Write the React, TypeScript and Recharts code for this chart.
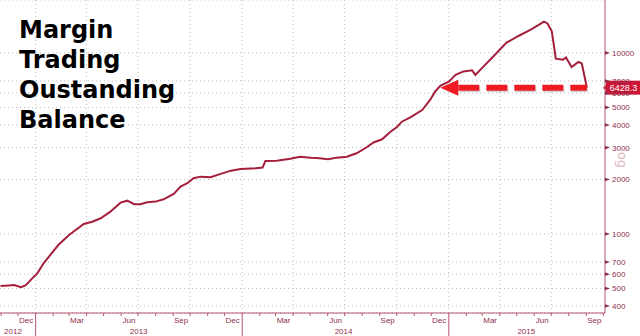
import React from 'react';
import { LineChart, Line, XAxis, YAxis, CartesianGrid, ReferenceLine } from 'recharts';

// Margin trading outstanding balance (log scale)
const dates = [
  '2012-10-31', '2012-11-14', '2012-11-24', '2012-12-06', '2012-12-14', '2012-12-29',
  '2013-01-04', '2013-01-15', '2013-01-27', '2013-02-10', '2013-03-01', '2013-03-27',
  '2013-04-11', '2013-04-26', '2013-05-13', '2013-05-31', '2013-06-12', '2013-06-24',
  '2013-07-05', '2013-07-17', '2013-08-01', '2013-08-15', '2013-09-02', '2013-09-14',
  '2013-09-26', '2013-10-07', '2013-10-19', '2013-11-06', '2013-11-24', '2013-12-12',
  '2013-12-29', '2014-01-25', '2014-02-06', '2014-02-11', '2014-03-03', '2014-03-27',
  '2014-04-13', '2014-05-02', '2014-05-13', '2014-06-02', '2014-06-17', '2014-07-05',
  '2014-07-22', '2014-08-09', '2014-08-21', '2014-09-05', '2014-09-20', '2014-10-02',
  '2014-10-10', '2014-10-25', '2014-11-15', '2014-11-29', '2014-12-08', '2014-12-17',
  '2015-01-01', '2015-01-13', '2015-01-27', '2015-02-11', '2015-02-17', '2015-02-26',
  '2015-03-21', '2015-04-13', '2015-05-04', '2015-05-25', '2015-06-09', '2015-06-18',
  '2015-06-24', '2015-07-02', '2015-07-06', '2015-07-09', '2015-07-22', '2015-07-27',
  '2015-08-06', '2015-08-18', '2015-08-24', '2015-08-27', '2015-09-02',
];
const balance = [
  516, 520, 522, 508, 520, 581,
  606, 689, 766, 869, 987, 1136,
  1169, 1221, 1328, 1489, 1527, 1460,
  1460, 1496, 1509, 1554, 1664, 1826,
  1907, 2030, 2073, 2057, 2146, 2237,
  2286, 2306, 2330, 2531, 2540, 2605,
  2673, 2640, 2630, 2585, 2640, 2673,
  2790, 3013, 3200, 3334, 3672, 3910,
  4170, 4410, 4838, 5500, 6125, 6580,
  6940, 7560, 7900, 8010, 7560, 8080,
  9580, 11400, 12400, 13400, 14290, 14900,
  14600, 13150, 10830, 9300, 9180, 9430,
  8360, 8920, 8740, 7900, 6428.3,
];

const yTicks = [400, 500, 600, 700, 1000, 2000, 3000, 4000, 5000, 6000, 7000, 10000];
const monthLabels = ['Dec', 'Mar', 'Jun', 'Sep', 'Dec', 'Mar', 'Jun', 'Sep', 'Dec', 'Mar', 'Jun', 'Sep'];
const monthLabelDates = [
  '2012-12-15', '2013-03-15', '2013-06-15', '2013-09-15',
  '2013-12-15', '2014-03-15', '2014-06-15', '2014-09-15',
  '2014-12-15', '2015-03-15', '2015-06-15', '2015-09-15',
];
const yearLabels = ['2012', '2013', '2014', '2015'];
const yearLabelDates = ['2012-11-22', '2013-07-02', '2014-06-29', '2015-05-18'];
const gridDates = [
  '2013-01-01', '2013-04-01', '2013-07-01', '2013-10-01',
  '2014-01-01', '2014-04-01', '2014-07-01', '2014-10-01',
  '2015-01-01', '2015-04-01', '2015-07-01',
];
const lastValue = 6428.3;
const arrowFrom = '2014-12-17';
const arrowTo = '2015-09-02';
const domainStart = '2012-10-30';
const domainEnd = '2015-10-04';

const t = (d: string) => Date.parse(d);
const data = dates.map((d, i) => ({ t: t(d), v: balance[i] }));

// month boundaries for the small tick marks
const monthStarts: number[] = [];
for (let i = 0; ; i++) {
  const ms = Date.UTC(2012, 10 + i, 1);
  if (ms > t(domainEnd)) break;
  monthStarts.push(ms);
}
const monthStartSet = new Set(monthStarts);
const monthLabelAt = new Map(monthLabelDates.map((d, i) => [t(d), monthLabels[i]]));
const yearLabelAt = new Map(yearLabelDates.map((d, i) => [t(d), yearLabels[i]]));
const xTicks = Array.from(new Set([...monthStarts, ...monthLabelAt.keys(), ...yearLabelAt.keys()])).sort(
  (a, b) => a - b,
);

const axisColor = '#b5546e';
const textColor = '#8f2f4d';
const lineColor = '#a51f3c';
const gridColor = '#bdbdbd';
const font = '"Liberation Sans", Arial, sans-serif';

const XTick = (props: any) => {
  const { x, y, payload } = props;
  const v = payload.value;
  const jan = new Date(v).getUTCMonth() === 0;
  return (
    <g>
      {monthStartSet.has(v) && (
        <line x1={x} y1={y} x2={x} y2={y + (jan ? 23 : 3)} stroke={axisColor} strokeWidth={1} />
      )}
      {monthLabelAt.has(v) && (
        <text x={x} y={y + 10} textAnchor="middle" fill={textColor} fontSize={8} fontFamily={font}>
          {monthLabelAt.get(v)}
        </text>
      )}
      {yearLabelAt.has(v) && (
        <text x={x} y={y + 21} textAnchor="middle" fill={textColor} fontSize={8} fontFamily={font}>
          {yearLabelAt.get(v)}
        </text>
      )}
    </g>
  );
};

const YTick = (props: any) => {
  const { x, y, payload } = props;
  return (
    <g>
      <polygon points={`${x},${y - 1.8} ${x + 5},${y} ${x},${y + 1.8}`} fill={textColor} />
      <text x={x + 7} y={y + 3} fill={textColor} fontSize={8} fontFamily={font}>
        {payload.value}
      </text>
    </g>
  );
};

const ArrowShape = (p: any) => {
  const x1 = Math.min(p.x1, p.x2);
  const x2 = Math.max(p.x1, p.x2);
  const y1 = p.y1;
  const head = 18;
  return (
    <g>
      <line x1={x1 + head + 1} y1={y1 + 1.5} x2={x2 + 1} y2={y1 + 1.5} stroke="#888" strokeOpacity={0.35}
        strokeWidth={6} strokeDasharray="21 7" />
      <line x1={x1 + head} y1={y1} x2={x2} y2={y1} stroke="#ee1b24" strokeWidth={6} strokeDasharray="21 7" />
      <polygon points={`${x1},${y1} ${x1 + head},${y1 - 8} ${x1 + head},${y1 + 8}`} fill="#ee1b24" />
    </g>
  );
};

const LastTag = (p: any) => {
  const right = Math.max(p.x1, p.x2);
  const y1 = p.y1;
  return (
    <g>
      <polygon points={`${right - 2},${y1} ${right + 2},${y1 - 4} ${right + 2},${y1 + 4}`} fill="#cc1638" />
      <rect x={right + 1} y={y1 - 7} width={35} height={14} fill="#cc1638" />
      <text x={right + 18.5} y={y1 + 3.5} textAnchor="middle" fill="#fff" fontSize={9} fontFamily={font}>
        {lastValue}
      </text>
    </g>
  );
};

export default function App() {
  return (
    <div style={{ position: 'absolute', left: 0, top: 0, width: 640, height: 336, background: '#fff' }}>
      <LineChart width={640} height={336} data={data} margin={{ top: 0, right: 0, bottom: 0, left: 0 }}>
        <CartesianGrid vertical={false} stroke={gridColor} strokeDasharray="1 3" />
        {gridDates.map((d) => (
          <ReferenceLine key={d} x={t(d)} stroke={gridColor} strokeDasharray="1 3" />
        ))}
        <XAxis
          dataKey="t"
          type="number"
          domain={[t(domainStart), t(domainEnd)]}
          allowDataOverflow
          ticks={xTicks}
          interval={0}
          tick={XTick}
          tickLine={false}
          tickSize={0}
          tickMargin={0}
          height={23}
          axisLine={{ stroke: axisColor }}
        />
        <YAxis
          orientation="right"
          scale="log"
          domain={[366, 19600]}
          allowDataOverflow
          ticks={yTicks}
          interval={0}
          tick={YTick}
          tickLine={false}
          tickSize={0}
          tickMargin={0}
          width={35}
          axisLine={{ stroke: axisColor }}
        />
        <Line
          type="linear"
          dataKey="v"
          stroke={lineColor}
          strokeWidth={2}
          dot={false}
          activeDot={false}
          isAnimationActive={false}
        />
        <ReferenceLine
          segment={[{ x: t(arrowFrom), y: lastValue }, { x: t(arrowTo), y: lastValue }]}
          ifOverflow="visible"
          shape={ArrowShape}
        />
        <ReferenceLine y={lastValue} ifOverflow="visible" shape={LastTag} />
      </LineChart>
      <div
        style={{
          position: 'absolute', left: 19, top: 15, fontFamily: '"DejaVu Sans", sans-serif',
          fontWeight: 'bold', fontSize: 24, lineHeight: '30px', color: '#000',
        }}
      >
        Margin<br />Trading<br />Oustanding<br />Balance
      </div>
      <div
        style={{
          position: 'absolute', left: 610, top: 150, width: 24, height: 16, lineHeight: '16px',
          transform: 'rotate(90deg)', transformOrigin: 'center', textAlign: 'center',
          fontFamily: '"DejaVu Sans", sans-serif', fontSize: 13, color: '#e2b5c2',
        }}
      >
        log
      </div>
    </div>
  );
}
